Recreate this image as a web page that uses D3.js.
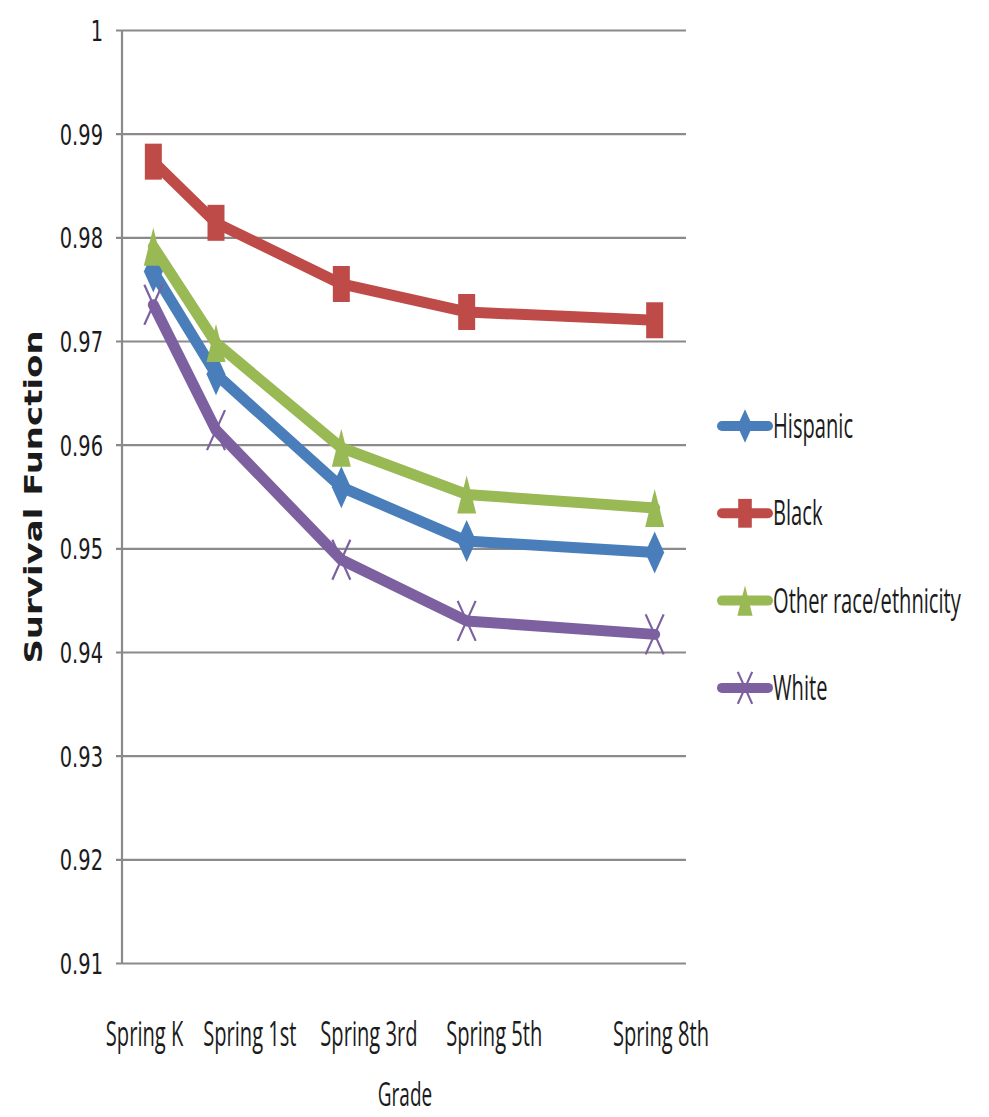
<!DOCTYPE html>
<html>
<head>
<meta charset="utf-8">
<script src="https://cdn.jsdelivr.net/npm/d3@7"></script>
<style>
  body { margin: 0; background: #ffffff; }
  svg { display: block; }
</style>
</head>
<body>
<svg id="chart" width="989" height="1117"></svg>
<script>
// Grade at each survey wave (K = 0) and the wave labels
const grades = [0, 1, 3, 5, 8];
const gradeLabels = ["Spring K", "Spring 1st", "Spring 3rd", "Spring 5th", "Spring 8th"];
// where each wave label sits, in grade units
const gradeLabelAt = [-0.14, 1.54, 3.44, 5.44, 8.1];

// Survival function by race/ethnicity
const seriesNames = ["Hispanic", "Black", "Other race/ethnicity", "White"];
const hispanic = [0.9767, 0.9668, 0.9559, 0.9507, 0.9496];
const black    = [0.9873, 0.9814, 0.9755, 0.9728, 0.9720];
const other    = [0.9791, 0.9698, 0.9597, 0.9552, 0.9539];
const white    = [0.9735, 0.9614, 0.9489, 0.9430, 0.9417];

const yTicks = [0.91, 0.92, 0.93, 0.94, 0.95, 0.96, 0.97, 0.98, 0.99, 1];

const colors  = ["#4a7ebb", "#be4b48", "#98b954", "#7d60a0"];
const symbols = ["diamond", "square", "triangle", "cross"];
const values  = [hispanic, black, other, white];

const series = seriesNames.map((name, i) => ({
  name, color: colors[i], symbol: symbols[i],
  points: grades.map((g, j) => ({ g, v: values[i][j] }))
}));

const svg = d3.select("#chart");

const x = d3.scaleLinear().domain([-0.5, 8.5]).range([122, 686]);
const y = d3.scaleLinear().domain([0.91, 1]).range([963, 30]);

const LABEL_FONT = "'Open Sans', 'Noto Sans', sans-serif";
const LABEL_SIZE = 35;
const LABEL_SQUEEZE = 0.575;
const TEXT_COLOR = "#1b1b1b";

// horizontal gridlines with short ticks left of the axis
const yAxis = d3.axisLeft(y).tickValues(yTicks).tickSize(-(686 - 116)).tickFormat("");
const gy = svg.append("g").attr("transform", "translate(116,0)").call(yAxis);
gy.select(".domain").remove();
gy.selectAll(".tick line").attr("stroke", "#8a8a8a").attr("stroke-width", 2.2);

// vertical axis line
svg.append("line")
  .attr("x1", 122).attr("x2", 122)
  .attr("y1", y(1)).attr("y2", y(0.91))
  .attr("stroke", "#8a8a8a").attr("stroke-width", 2.2);

// y tick labels
svg.append("g").selectAll("text").data(yTicks).join("text")
  .attr("transform", d => `translate(103,${y(d) + 11}) scale(0.67,1)`)
  .attr("text-anchor", "end")
  .attr("font-family", "'DejaVu Sans', Verdana, sans-serif")
  .attr("font-size", 29)
  .attr("fill", TEXT_COLOR)
  .text(d => d === 1 ? "1" : d.toFixed(2));

// x wave labels
svg.append("g").selectAll("text").data(gradeLabels).join("text")
  .attr("transform", (d, i) => `translate(${x(gradeLabelAt[i])},1046) scale(${LABEL_SQUEEZE},1)`)
  .attr("text-anchor", "middle")
  .attr("font-family", LABEL_FONT)
  .attr("font-size", LABEL_SIZE)
  .attr("fill", TEXT_COLOR)
  .text(d => d);

// axis titles
svg.append("text")
  .attr("transform", `translate(405,1106) scale(${LABEL_SQUEEZE},1)`)
  .attr("text-anchor", "middle")
  .attr("font-family", LABEL_FONT)
  .attr("font-size", 33)
  .attr("fill", TEXT_COLOR)
  .text("Grade");

svg.append("text")
  .attr("transform", "translate(42,497) rotate(-90) scale(1,0.73)")
  .attr("text-anchor", "middle")
  .attr("font-family", "'DejaVu Sans', Verdana, sans-serif")
  .attr("font-weight", "bold")
  .attr("font-size", 34)
  .attr("fill", TEXT_COLOR)
  .text("Survival Function");

// marker shapes, taller than wide
function markerPath(type, w, h) {
  const p = d3.path();
  if (type === "diamond") {
    p.moveTo(0, -h / 2); p.lineTo(w / 2, 0); p.lineTo(0, h / 2); p.lineTo(-w / 2, 0); p.closePath();
  } else if (type === "square") {
    p.rect(-w / 2, -h / 2, w, h);
  } else if (type === "triangle") {
    p.moveTo(0, -h / 2); p.lineTo(w / 2, h / 2); p.lineTo(-w / 2, h / 2); p.closePath();
  } else {
    p.moveTo(-w / 2, -h / 2); p.lineTo(w / 2, h / 2);
    p.moveTo(w / 2, -h / 2); p.lineTo(-w / 2, h / 2);
  }
  return p.toString();
}
const markerSize = {
  diamond: [19, 42], square: [17, 36], triangle: [19, 38], cross: [18, 40]
};

function drawMarker(sel, s, scale) {
  const [w, h] = markerSize[s.symbol];
  const m = sel.append("path").attr("d", markerPath(s.symbol, w * scale, h * scale));
  if (s.symbol === "cross") {
    m.attr("fill", "none").attr("stroke", s.color).attr("stroke-width", 2.2);
  } else {
    m.attr("fill", s.color).attr("stroke", "none");
  }
  return m;
}

const line = d3.line().x(d => x(d.g)).y(d => y(d.v));

const plot = svg.append("g");
series.forEach(s => {
  const g = plot.append("g");
  g.append("path")
    .attr("d", line(s.points))
    .attr("fill", "none")
    .attr("stroke", s.color)
    .attr("stroke-width", 11)
    .attr("stroke-linejoin", "round")
    .attr("stroke-linecap", "round");
  s.points.forEach(pt => {
    const mg = g.append("g").attr("transform", `translate(${x(pt.g)},${y(pt.v)})`);
    drawMarker(mg, s, 1);
  });
});

// legend
const legend = svg.append("g");
series.forEach((s, i) => {
  const cy = 426 + i * 87.3;
  const item = legend.append("g").attr("transform", `translate(0,${cy})`);
  item.append("line")
    .attr("x1", 722).attr("x2", 768)
    .attr("stroke", s.color).attr("stroke-width", 10)
    .attr("stroke-linecap", "round");
  const mg = item.append("g").attr("transform", "translate(745,0)");
  drawMarker(mg, s, 0.8);
  item.append("text")
    .attr("transform", `translate(773,12) scale(${LABEL_SQUEEZE},1)`)
    .attr("font-family", LABEL_FONT)
    .attr("font-size", LABEL_SIZE)
    .attr("fill", TEXT_COLOR)
    .text(s.name);
});
</script>
</body>
</html>
